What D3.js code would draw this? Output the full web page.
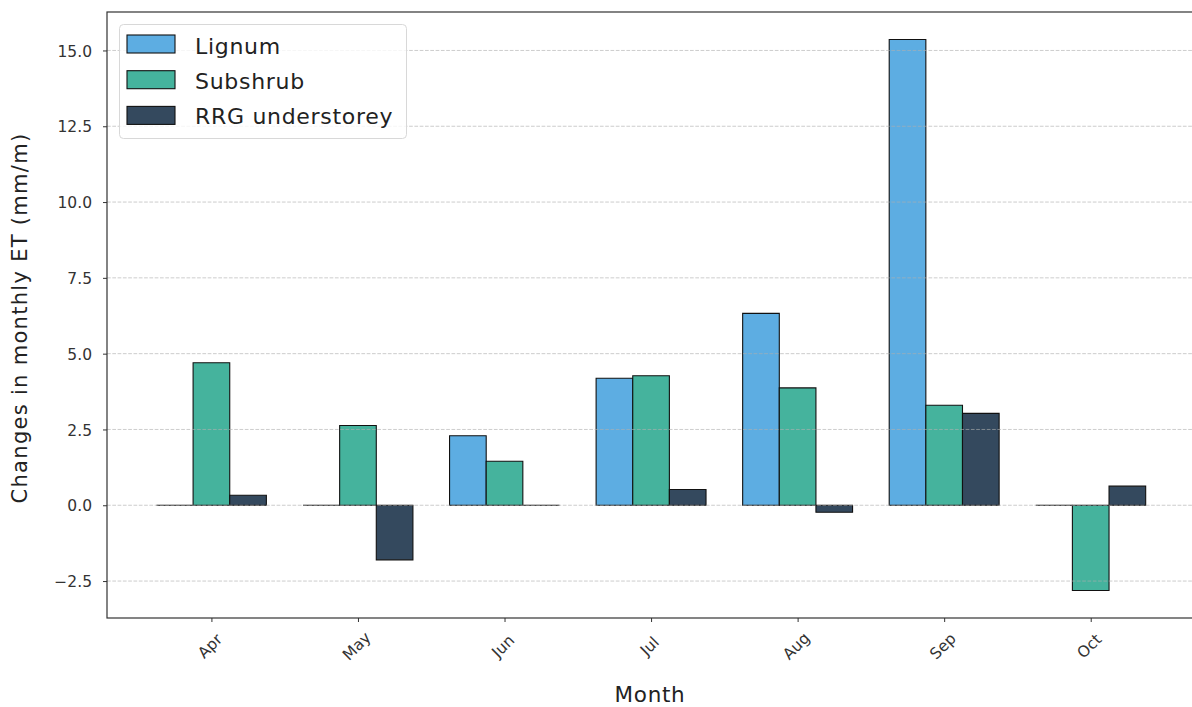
<!DOCTYPE html>
<html><head><meta charset="utf-8">
<script src="https://cdn.jsdelivr.net/npm/d3@7/dist/d3.min.js"></script>
<style>body{margin:0;background:#fff;} svg{display:block;font-family:"DejaVu Sans",sans-serif;}</style>
</head><body>
<svg id="chart" width="1192" height="707"></svg>
<script>
const months = ["Apr","May","Jun","Jul","Aug","Sep","Oct"];
const seriesNames = ["Lignum","Subshrub","RRG understorey"];
const lignum = [0, 0, 2.29, 4.19, 6.33, 15.36, 0];
const subshrub = [4.70, 2.63, 1.45, 4.27, 3.87, 3.30, -2.81];
const rrg = [0.33, -1.80, 0, 0.52, -0.23, 3.03, 0.63];
const colors = ["#5DADE2","#45B39D","#34495E"];
const yTicks = [-2.5, 0, 2.5, 5, 7.5, 10, 12.5, 15];
const series = [lignum, subshrub, rrg];

(function(){
const svg = d3.select("#chart");
const mLeft = 107, mTop = 12, mBottom = 618;
const barW = 0.25;
const xlim = [-0.7125, 6.7125];
const pxPerCat = 146.55;
const mRight = mLeft + (xlim[1]-xlim[0]) * pxPerCat;
const x = d3.scaleLinear().domain(xlim).range([mLeft, mRight]);
const allVals = series.flat();
const ymin = d3.min(allVals), ymax = d3.max(allVals);
const pad = (ymax - ymin) * 0.05;
const y = d3.scaleLinear().domain([ymin - pad, ymax + pad]).range([mBottom, mTop]);

// bars
series.forEach((vals, si) => {
  const off = (si - 1) * barW;
  svg.append("g").selectAll("path").data(vals).join("path")
    .attr("d", (v, i) => {
      const x0 = x(i + off - barW/2), x1 = x(i + off + barW/2);
      const y0 = y(0), y1 = y(v);
      return `M${x0},${y0}H${x1}V${y1}H${x0}Z`;
    })
    .attr("fill", colors[si])
    .attr("stroke", "#111")
    .attr("stroke-width", 1.1);
});

// grid (drawn above bars)
svg.append("g").selectAll("line").data(yTicks).join("line")
  .attr("x1", mLeft).attr("x2", mRight)
  .attr("y1", d => y(d)).attr("y2", d => y(d))
  .attr("stroke", "#b0b0b0").attr("stroke-opacity", 0.7)
  .attr("stroke-width", 0.9).attr("stroke-dasharray", "3.7,1.6");

// axes
const yAxis = d3.axisLeft(y).tickValues(yTicks).tickSize(4).tickPadding(11)
  .tickFormat(d => d3.format(".1f")(d).replace("-", "\u2212"));
const gy = svg.append("g").attr("transform", `translate(${mLeft},0)`).call(yAxis);
gy.select(".domain").remove();
gy.selectAll("line").attr("stroke", "#333");
gy.selectAll("text").attr("font-size", 15.5).attr("fill", "#333").attr("font-family", "DejaVu Sans")
  .attr("dy", "0.36em");

const xAxis = d3.axisBottom(x).tickValues(d3.range(months.length)).tickSize(4).tickFormat(i => months[i]);
const gx = svg.append("g").attr("transform", `translate(0,${mBottom})`).call(xAxis);
gx.select(".domain").remove();
gx.selectAll("line").attr("stroke", "#333");
gx.selectAll("text").attr("font-size", 15.5).attr("fill", "#333").attr("font-family", "DejaVu Sans")
  .attr("text-anchor", "middle").attr("dy", "0.35em").attr("y", 0)
  .attr("transform", "translate(-2,28) rotate(-45)");

// spines
svg.append("rect").attr("x", mLeft).attr("y", mTop).attr("width", mRight-mLeft).attr("height", mBottom-mTop)
  .attr("fill", "none").attr("stroke", "#333").attr("stroke-width", 1.2);

// axis labels
svg.append("text").attr("x", 650).attr("y", 702).attr("text-anchor","middle")
  .attr("font-size", 21.5).attr("letter-spacing", 0.7).attr("fill","#222").text("Month");
svg.append("text").attr("transform", `translate(27,318) rotate(-90)`).attr("text-anchor","middle")
  .attr("font-size", 21).attr("letter-spacing", 1.3).attr("fill","#222").text("Changes in monthly ET (mm/m)");

// legend
const lg = svg.append("g").attr("transform", `translate(119,24)`);
lg.append("rect").attr("x", 0.5).attr("y", 0.5).attr("width", 287).attr("height", 114).attr("rx", 4)
  .attr("fill", "#fff").attr("fill-opacity", 0.8).attr("stroke", "#d8d8d8").attr("stroke-width", 1);
seriesNames.forEach((n, i) => {
  lg.append("rect").attr("x", 8).attr("y", 11 + i*35.7).attr("width", 48).attr("height", 18)
    .attr("fill", colors[i]).attr("stroke", "#111").attr("stroke-width", 1.1);
  lg.append("text").attr("x", 76).attr("y", 29.5 + i*35.2).attr("font-size", 22).attr("letter-spacing", 0.7)
    .attr("fill","#222").text(n);
});
})();
</script>
</body></html>
